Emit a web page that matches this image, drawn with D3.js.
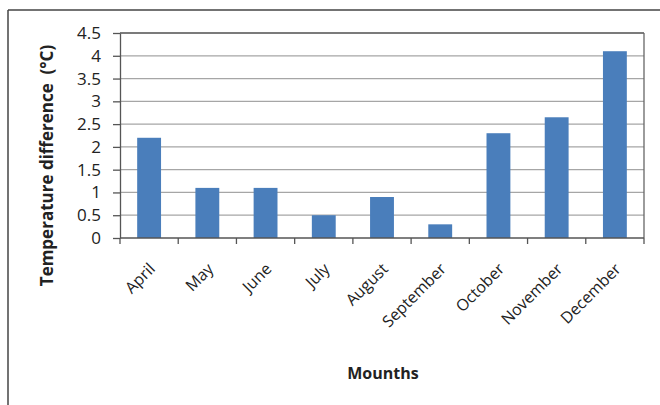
<!DOCTYPE html>
<html lang="en">
<head>
    <meta charset="UTF-8">
    <title>Temperature difference by month</title>
    <script src="https://d3js.org/d3.v7.min.js"></script>
    <style>
        body { margin: 0; background: #fff; font-family: 'Open Sans', sans-serif; }
        .grid line { stroke: #a6a6a6; stroke-width: 1.3px; }
        .axis path, .axis line { stroke: #555; stroke-width: 1.3px; }
        .axis text { fill: #222; font-family: 'Open Sans', sans-serif; }
    </style>
</head>
<body>
    <svg id="chart" width="660" height="405"></svg>
    <script>
        const months = ["April", "May", "June", "July", "August", "September", "October", "November", "December"];
        const tempDiff = [2.2, 1.1, 1.1, 0.5, 0.9, 0.3, 2.3, 2.65, 4.1];
        const yTicks = [0, 0.5, 1, 1.5, 2, 2.5, 3, 3.5, 4, 4.5];

        const svg = d3.select("#chart");
        const margin = { left: 120, top: 33, right: 16, bottom: 167 };
        const width = 660 - margin.left - margin.right;
        const height = 405 - margin.top - margin.bottom;

        // outer frame (only top and left edges show)
        svg.append("line").attr("x1", 8).attr("x2", 660).attr("y1", 10).attr("y2", 10)
            .style("stroke", "#444").style("stroke-width", 1.5);
        svg.append("line").attr("x1", 8).attr("x2", 8).attr("y1", 10).attr("y2", 405)
            .style("stroke", "#444").style("stroke-width", 1.5);

        const g = svg.append("g").attr("transform", `translate(${margin.left},${margin.top})`);

        const x = d3.scaleBand().domain(months).range([0, width]).paddingInner(0.59).paddingOuter(0.295);
        const xEdge = d3.scaleLinear().domain([0, months.length]).range([0, width]);
        const y = d3.scaleLinear().domain([0, 4.5]).range([height, 0]);

        // gridlines
        g.append("g").attr("class", "grid")
            .selectAll("line").data(yTicks.slice(1)).enter().append("line")
            .attr("x1", 0).attr("x2", width)
            .attr("y1", d => y(d)).attr("y2", d => y(d));

        // plot border top and right
        g.append("line").attr("x1", width).attr("x2", width).attr("y1", 0).attr("y2", height)
            .style("stroke", "#666").style("stroke-width", 1.3);
        g.append("line").attr("x1", 0).attr("x2", width).attr("y1", 0).attr("y2", 0)
            .style("stroke", "#666").style("stroke-width", 1.3);

        // bars
        g.selectAll(".bar").data(tempDiff).enter().append("rect")
            .attr("class", "bar")
            .attr("x", (d, i) => x(months[i]))
            .attr("width", x.bandwidth())
            .attr("y", d => y(d))
            .attr("height", d => height - y(d))
            .style("fill", "#4a7ebb");

        // y axis
        const yAxis = g.append("g").attr("class", "axis")
            .call(d3.axisLeft(y).tickValues(yTicks).tickSize(7).tickSizeOuter(0).tickPadding(12).tickFormat(d3.format("")));
        yAxis.selectAll("text").style("font-size", "17px");

        // x axis with ticks at category boundaries
        const xAxis = g.append("g").attr("class", "axis").attr("transform", `translate(0,${height})`);
        xAxis.append("line").attr("x1", 0).attr("x2", width);
        xAxis.selectAll(".tk").data(d3.range(months.length + 1)).enter().append("line")
            .attr("class", "tk")
            .attr("x1", d => xEdge(d)).attr("x2", d => xEdge(d))
            .attr("y1", 0).attr("y2", 6);
        xAxis.selectAll(".lbl").data(months).enter().append("text")
            .attr("class", "lbl")
            .attr("text-anchor", "end")
            .attr("transform", d => `translate(${x(d) + x.bandwidth() / 2 + 7},${32}) rotate(-45)`)
            .style("font-size", "16px")
            .text(d => d);

        // axis titles
        svg.append("text")
            .attr("transform", `translate(53,${margin.top + height / 2 + 30}) rotate(-90)`)
            .attr("text-anchor", "middle")
            .style("white-space", "pre")
            .style("font-size", "17px").style("font-weight", "bold").style("fill", "#222")
            .text("Temperature difference  (°C)");

        svg.append("text")
            .attr("x", 383).attr("y", 379)
            .attr("text-anchor", "middle")
            .style("font-size", "16px").style("font-weight", "bold").style("fill", "#222")
            .text("Mounths");
    </script>
</body>
</html>
